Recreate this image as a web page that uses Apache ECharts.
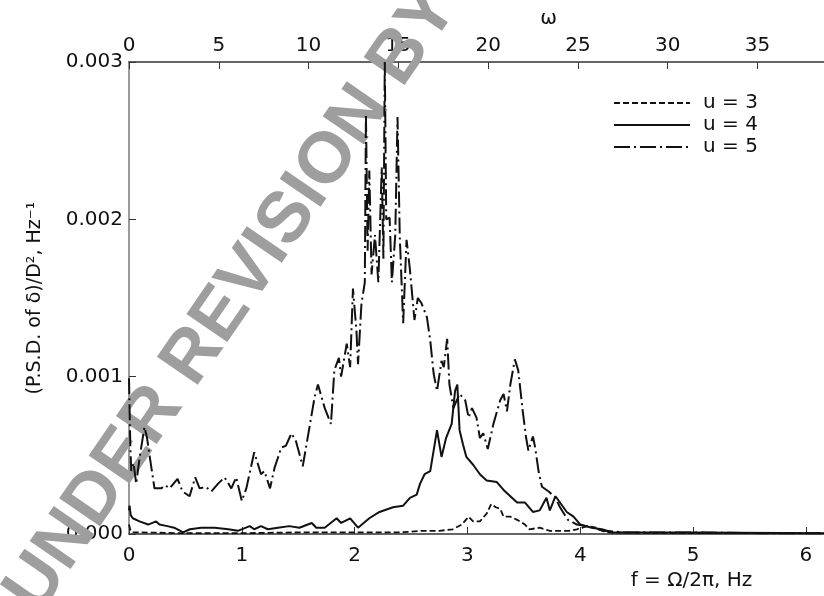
<!DOCTYPE html>
<html>
<head>
<meta charset="utf-8">
<script src="https://cdn.jsdelivr.net/npm/echarts@6/dist/echarts.min.js"></script>
<style>
  html, body { margin: 0; padding: 0; background: #fff; }
  #chart { width: 824px; height: 596px; }
</style>
</head>
<body>
<div id="chart"></div>
<script>
// 주파수 (Hz) 와 P.S.D. 값
let f3 = [0, 0.01, 0.03, 0.1, 0.5, 1.0, 1.5, 2.0, 2.4, 2.59, 2.75, 2.87, 2.95, 3.01, 3.05, 3.11, 3.17, 3.21, 3.25, 3.29, 3.32, 3.38, 3.44, 3.51, 3.55, 3.64, 3.73, 3.9, 3.97, 4.06, 4.14, 4.23, 5.0, 6.16];
let u3 = [0.00006, 0.00003, 0.00001, 0.00001, 0.000005, 0.000005, 0.00001, 0.00001, 0.00001, 0.00002, 0.00002, 0.00003, 0.00006, 0.00011, 0.00008, 0.00008, 0.00013, 0.00019, 0.00017, 0.00016, 0.00011, 0.00011, 0.00009, 0.00006, 0.00003, 0.00004, 0.00002, 0.00002, 0.00003, 0.00005, 0.00004, 0.00001, 0.000005, 0.000005];

let f4 = [0, 0.005, 0.015, 0.034, 0.093, 0.17, 0.24, 0.27, 0.34, 0.40, 0.48, 0.54, 0.64, 0.76, 0.88, 0.965, 1.07, 1.11, 1.17, 1.23, 1.32, 1.42, 1.51, 1.62, 1.66, 1.735, 1.84, 1.88, 1.96, 2.03, 2.13, 2.22, 2.34, 2.43, 2.49, 2.55, 2.58, 2.62, 2.67, 2.70, 2.73, 2.77, 2.81, 2.86, 2.89, 2.91, 2.93, 2.96, 2.99, 3.05, 3.11, 3.17, 3.26, 3.32, 3.38, 3.44, 3.51, 3.58, 3.64, 3.70, 3.73, 3.78, 3.82, 3.88, 3.94, 4.0, 4.1, 4.19, 4.29, 5.0, 6.16];
let u4 = [0.00015, 0.00018, 0.00012, 0.0001, 0.00008, 0.00006, 0.00008, 0.00006, 0.00005, 0.00004, 0.00001, 0.00003, 0.00004, 0.00004, 0.00003, 0.00002, 0.00005, 0.00003, 0.00005, 0.00003, 0.00004, 0.00005, 0.00004, 0.00007, 0.00004, 0.00004, 0.0001, 0.00007, 0.0001, 0.00004, 0.0001, 0.00014, 0.00017, 0.00018, 0.00023, 0.00025, 0.00032, 0.00038, 0.0004, 0.00053, 0.00066, 0.00049, 0.00061, 0.0007, 0.00091, 0.00095, 0.00066, 0.00057, 0.00049, 0.00044, 0.00038, 0.00034, 0.00033, 0.00028, 0.00024, 0.0002, 0.0002, 0.00014, 0.00015, 0.00023, 0.00015, 0.00024, 0.0002, 0.00014, 0.00011, 0.00006, 0.00004, 0.00003, 0.00001, 0.00001, 0.000005];

let f5 = [0, 0.005, 0.012, 0.02, 0.04, 0.064, 0.093, 0.137, 0.16, 0.18, 0.226, 0.286, 0.32, 0.36, 0.43, 0.475, 0.537, 0.587, 0.626, 0.68, 0.73, 0.79, 0.847, 0.907, 0.95, 1.0, 1.04, 1.11, 1.17, 1.2, 1.25, 1.29, 1.35, 1.39, 1.44, 1.48, 1.54, 1.6, 1.645, 1.675, 1.735, 1.79, 1.82, 1.86, 1.88, 1.93, 1.96, 1.985, 2.016, 2.03, 2.06, 2.09, 2.1, 2.115, 2.13, 2.15, 2.18, 2.21, 2.24, 2.255, 2.267, 2.28, 2.31, 2.33, 2.36, 2.38, 2.4, 2.43, 2.46, 2.49, 2.53, 2.56, 2.59, 2.64, 2.67, 2.7, 2.73, 2.77, 2.79, 2.82, 2.84, 2.875, 2.93, 2.98, 3.01, 3.04, 3.08, 3.11, 3.14, 3.18, 3.23, 3.29, 3.32, 3.35, 3.38, 3.42, 3.45, 3.49, 3.52, 3.54, 3.58, 3.6, 3.63, 3.66, 3.72, 3.78, 3.82, 3.89, 3.97, 4.05, 4.12, 4.2, 4.4, 5.0, 5.6, 6.16];
let u5 = [0.00099, 0.0008, 0.00055, 0.0004, 0.00045, 0.00032, 0.00048, 0.00068, 0.00061, 0.00051, 0.00029, 0.00029, 0.00031, 0.00029, 0.00035, 0.00027, 0.00024, 0.00036, 0.00029, 0.0003, 0.00027, 0.00032, 0.00036, 0.00029, 0.00036, 0.00021, 0.00029, 0.00052, 0.00038, 0.0004, 0.00029, 0.00042, 0.00055, 0.00056, 0.00064, 0.00059, 0.00043, 0.00068, 0.00087, 0.00095, 0.0008, 0.0007, 0.00104, 0.00112, 0.001, 0.00121, 0.00106, 0.00156, 0.00129, 0.00108, 0.00146, 0.0016, 0.00267, 0.0018, 0.00231, 0.00165, 0.0019, 0.0016, 0.00233, 0.00175, 0.003, 0.002, 0.00201, 0.0016, 0.0019, 0.00265, 0.00189, 0.00134, 0.00187, 0.00168, 0.00136, 0.0015, 0.00147, 0.00138, 0.00123, 0.00102, 0.00091, 0.0011, 0.00106, 0.00124, 0.00095, 0.0008, 0.00089, 0.00085, 0.00074, 0.0008, 0.00074, 0.00061, 0.00064, 0.00054, 0.0007, 0.00085, 0.00089, 0.00078, 0.00095, 0.00111, 0.00104, 0.00078, 0.00061, 0.00053, 0.00062, 0.00055, 0.0004, 0.0003, 0.00027, 0.00023, 0.00017, 0.00009, 0.00006, 0.00005, 0.00004, 0.00002, 0.00001, 0.00001, 0.000005, 0.000005];

let fMax = 6.16;
let font = "DejaVu Sans";

function pairs(xs, ys) {
  return xs.map(function (x, i) { return [x, ys[i]]; });
}

let chart = echarts.init(document.getElementById("chart"));

let option = {
  animation: false,
  backgroundColor: "#fff",
  grid: { left: 129, right: 0, top: 62, bottom: 62 },
  legend: {
    orient: "vertical",
    left: 608,
    top: 88,
    itemWidth: 76,
    itemHeight: 14,
    itemGap: 2,
    itemStyle: { opacity: 0 },
    textStyle: { fontFamily: font, fontSize: 20, color: "#111", padding: [0, 0, 0, 8] },
    data: ["u = 3", "u = 4", "u = 5"],
  },
  xAxis: [
    {
      type: "value",
      min: 0,
      max: fMax,
      interval: 1,
      position: "bottom",
      name: "f = Ω/2π, Hz",
      nameLocation: "middle",
      nameGap: 35,
      nameTextStyle: { fontFamily: font, fontSize: 20, color: "#111", padding: [0, 0, 0, 430] },
      axisLine: { lineStyle: { color: "#333", width: 1.5 } },
      axisTick: { inside: true, length: 7, lineStyle: { color: "#333" } },
      axisLabel: { fontFamily: font, fontSize: 20, color: "#111", margin: 12 },
      splitLine: { show: false },
    },
    {
      type: "value",
      min: 0,
      max: fMax * 2 * Math.PI,
      interval: 5,
      position: "top",
      name: "ω",
      nameLocation: "middle",
      nameGap: 33,
      nameTextStyle: { fontFamily: font, fontSize: 20, color: "#111", padding: [0, 0, 0, 144] },
      axisLine: { lineStyle: { color: "#333", width: 1.5 } },
      axisTick: { inside: true, length: 7, lineStyle: { color: "#333" } },
      axisLabel: { fontFamily: font, fontSize: 20, color: "#111", margin: 6 },
      splitLine: { show: false },
    },
  ],
  yAxis: {
    type: "value",
    min: 0,
    max: 0.003,
    interval: 0.001,
    name: "(P.S.D. of δ)/D², Hz⁻¹",
    nameLocation: "middle",
    nameGap: 84,
    nameTextStyle: { fontFamily: font, fontSize: 19, color: "#111" },
    axisLine: { show: true, lineStyle: { color: "#777", width: 1.5 } },
    axisTick: { show: true, inside: true, length: 7, lineStyle: { color: "#333" } },
    axisLabel: {
      fontFamily: font,
      fontSize: 20,
      color: "#111",
      margin: 6,
      formatter: function (v) { return v.toFixed(3); },
    },
    splitLine: { show: false },
  },
  series: [
    {
      name: "u = 3",
      type: "line",
      symbol: "none",
      data: pairs(f3, u3),
      lineStyle: { color: "#111", width: 1.8, type: [6, 3] },
      itemStyle: { color: "#111" },
    },
    {
      name: "u = 4",
      type: "line",
      symbol: "none",
      data: pairs(f4, u4),
      lineStyle: { color: "#111", width: 2 },
      itemStyle: { color: "#111" },
    },
    {
      name: "u = 5",
      type: "line",
      symbol: "none",
      data: pairs(f5, u5),
      lineStyle: { color: "#111", width: 2, type: [16, 4, 2, 4] },
      itemStyle: { color: "#111" },
    },
  ],
  graphic: [
    {
      type: "text",
      x: 232,
      y: 300,
      rotation: 55.4 * Math.PI / 180,
      z: 1,
      style: {
        text: "UNDER REVISION BY",
        fontFamily: "Liberation Sans",
        fontWeight: "bold",
        fontSize: 72,
        fill: "#9e9e9e",
        align: "center",
        verticalAlign: "middle",
      },
    },
  ],
};
chart.setOption(option);
</script>
</body>
</html>
